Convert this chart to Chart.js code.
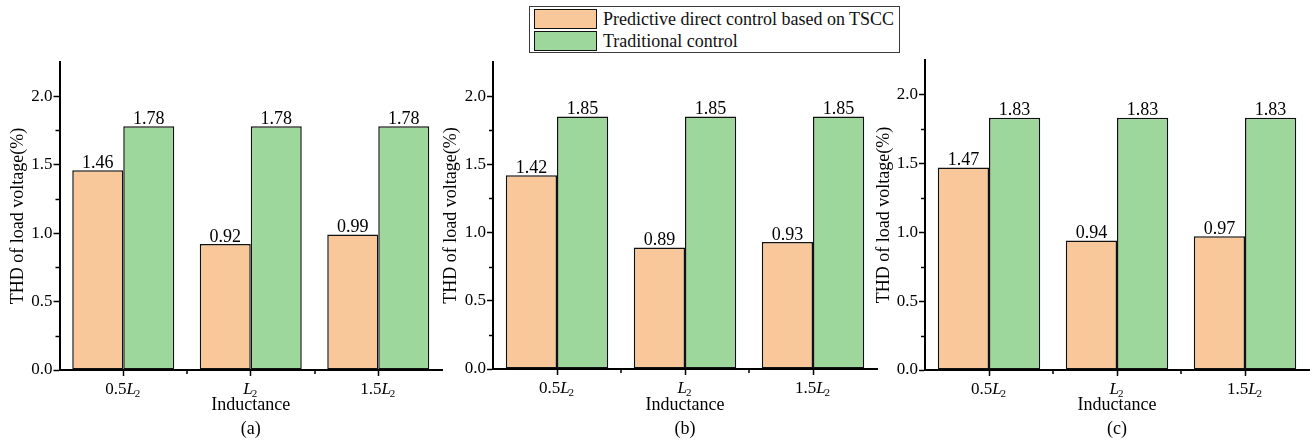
<!DOCTYPE html>
<html>
<head>
<meta charset="utf-8">
<title>THD of load voltage</title>
<script src="https://cdn.jsdelivr.net/npm/chart.js@4/dist/chart.umd.min.js"></script>
<style>
  html, body { margin: 0; padding: 0; background: #fff; }
  #page { position: relative; width: 1316px; height: 441px; overflow: hidden;
          font-family: "Liberation Serif", "Times New Roman", serif; }
  #page canvas { position: absolute; top: 0; }
  #legend { position: absolute; left: 529px; top: 6px; width: 371px; height: 47px;
            border: 1px solid #3a3a3a; box-sizing: border-box; background: #fff; }
  .row { position: absolute; left: 4px; height: 20px; display: flex; align-items: center; }
  .sw { width: 63px; height: 20px; border: 1.5px solid #111; box-sizing: border-box; }
  .lbl { margin-left: 6px; font-size: 18px; color: #111; line-height: 20px; white-space: nowrap; }
</style>
</head>
<body>
<div id="page">
  <canvas id="chartA" width="445" height="441" style="left:0px"></canvas>
  <canvas id="chartB" width="447" height="441" style="left:433px"></canvas>
  <canvas id="chartC" width="450" height="441" style="left:866px"></canvas>
  <div id="legend"></div>
</div>
<script>
// ---- data ----
const categories = ['0.5L₂', 'L₂', '1.5L₂'];
const seriesNames = ['Predictive direct control based on TSCC', 'Traditional control'];
const panelNames = ['(a)', '(b)', '(c)'];
const tsccA = [1.46, 0.92, 0.99];
const tradA = [1.78, 1.78, 1.78];
const tsccB = [1.42, 0.89, 0.93];
const tradB = [1.85, 1.85, 1.85];
const tsccC = [1.47, 0.94, 0.97];
const tradC = [1.83, 1.83, 1.83];
const yTicks = [0, 0.5, 1.0, 1.5, 2.0];
const yMax = 2.25;
const xTitle = 'Inductance';
const yTitle = 'THD of load voltage(%)';

// ---- styling ----
const FONT = '"Liberation Serif", "Times New Roman", serif';
const seriesColors = ['#F9C89A', '#9ED79C'];
const INK = '#000';

// panel frames: canvas left edge, y-axis x, plot right edge, plot top, plot bottom (page px)
const frames = [
  { id: 'chartA', left: 0,   width: 445, axisX: 59.5, right: 442,  top: 62, bottom: 370 },
  { id: 'chartB', left: 433, width: 447, axisX: 493,  right: 877,  top: 62, bottom: 369 },
  { id: 'chartC', left: 866, width: 450, axisX: 925,  right: 1309, top: 60, bottom: 370 }
];
const panelData = [[tsccA, tradA], [tsccB, tradB], [tsccC, tradC]];

// legend built from the series names
const legendEl = document.getElementById('legend');
seriesNames.forEach((name, i) => {
  const row = document.createElement('div');
  row.className = 'row';
  row.style.top = (i === 0 ? 2 : 24) + 'px';
  const sw = document.createElement('div');
  sw.className = 'sw';
  sw.style.background = seriesColors[i];
  const lbl = document.createElement('span');
  lbl.className = 'lbl';
  lbl.textContent = name;
  row.appendChild(sw);
  row.appendChild(lbl);
  legendEl.appendChild(row);
});

// minor ticks, category labels with subscripts, and value labels above bars
const decorations = {
  id: 'decorations',
  afterDraw(chart) {
    const ctx = chart.ctx;
    const xs = chart.scales.x, ys = chart.scales.y;
    ctx.save();
    ctx.strokeStyle = INK;
    ctx.lineWidth = 1.5;
    // minor y ticks halfway between labelled ticks
    for (let i = 0; i < yTicks.length; i++) {
      const v = yTicks[i] + 0.25;
      if (v >= yMax) continue;
      const py = Math.round(ys.getPixelForValue(v)) + 0.5;
      ctx.beginPath();
      ctx.moveTo(ys.right - 4, py);
      ctx.lineTo(ys.right, py);
      ctx.stroke();
    }
    // minor x ticks on category boundaries
    for (let i = 0; i < categories.length - 1; i++) {
      const px = Math.round(xs.getPixelForValue(i + 0.5));
      ctx.beginPath();
      ctx.moveTo(px, xs.top);
      ctx.lineTo(px, xs.top + 4);
      ctx.stroke();
    }
    // category labels: coefficient, italic L, subscript index
    ctx.fillStyle = INK;
    ctx.textBaseline = 'alphabetic';
    ctx.textAlign = 'left';
    const base = xs.top + 24;
    categories.forEach((label, i) => {
      const k = label.indexOf('L');
      const coef = label.slice(0, k);
      const sub = label.slice(k + 1).replace('₂', '2');
      const fCoef = '17px ' + FONT, fL = 'italic 17px ' + FONT, fSub = '11px ' + FONT;
      ctx.font = fCoef; const wC = ctx.measureText(coef).width;
      ctx.font = fL;    const wL = ctx.measureText('L').width;
      ctx.font = fSub;  const wS = ctx.measureText(sub).width;
      let x = xs.getPixelForValue(i) - (wC + wL + wS) / 2;
      ctx.font = fCoef; ctx.fillText(coef, x, base); x += wC;
      ctx.font = fL;    ctx.fillText('L', x, base);  x += wL - 1;
      ctx.font = fSub;  ctx.fillText(sub, x, base + 3);
    });
    // value labels
    ctx.font = '18px ' + FONT;
    ctx.textAlign = 'center';
    chart.data.datasets.forEach((ds, di) => {
      const meta = chart.getDatasetMeta(di);
      meta.data.forEach((bar, j) => {
        ctx.fillText(ds.data[j].toFixed(2), bar.x, bar.y - 2.5);
      });
    });
    ctx.restore();
  }
};

frames.forEach((f, p) => {
  const [tscc, trad] = panelData[p];
  new Chart(document.getElementById(f.id), {
    type: 'bar',
    data: {
      labels: categories,
      datasets: [
        { label: seriesNames[0], data: tscc, backgroundColor: seriesColors[0] },
        { label: seriesNames[1], data: trad, backgroundColor: seriesColors[1] }
      ]
    },
    options: {
      responsive: false,
      animation: false,
      devicePixelRatio: 1,
      layout: { padding: { top: f.top, left: 0, bottom: 0, right: f.left + f.width - f.right } },
      datasets: {
        bar: {
          categoryPercentage: 0.8,
          barPercentage: 1.0,
          borderColor: '#111',
          borderWidth: 1.5,
          borderSkipped: false
        }
      },
      plugins: { legend: { display: false }, tooltip: { enabled: false } },
      scales: {
        x: {
          type: 'category',
          afterFit(s) { s.height = 441 - f.bottom; },
          grid: { offset: false, drawOnChartArea: false, drawTicks: true, tickLength: 6,
                  tickWidth: 1.5, tickColor: INK },
          border: { display: true, color: INK, width: 2 },
          ticks: { display: false },
          title: {
            display: true,
            text: [xTitle, panelNames[p]],
            color: INK,
            font: { family: FONT, size: 18, lineHeight: 24 / 18 },
            padding: 0
          }
        },
        y: {
          min: 0,
          max: yMax,
          afterFit(s) { s.width = f.axisX - f.left; },
          afterBuildTicks(s) { s.ticks = yTicks.map(v => ({ value: v })); },
          grid: { drawOnChartArea: false, drawTicks: true, tickLength: 6,
                  tickWidth: 1.5, tickColor: INK },
          border: { display: true, color: INK, width: 2 },
          ticks: {
            color: INK,
            padding: 1,
            font: { family: FONT, size: 17 },
            callback: v => Number(v).toFixed(1)
          },
          title: {
            display: true,
            text: yTitle,
            color: INK,
            font: { family: FONT, size: 18, lineHeight: 1.2 },
            padding: { top: 7, bottom: 0 }
          }
        }
      }
    },
    plugins: [decorations]
  });
});
</script>
</body>
</html>
